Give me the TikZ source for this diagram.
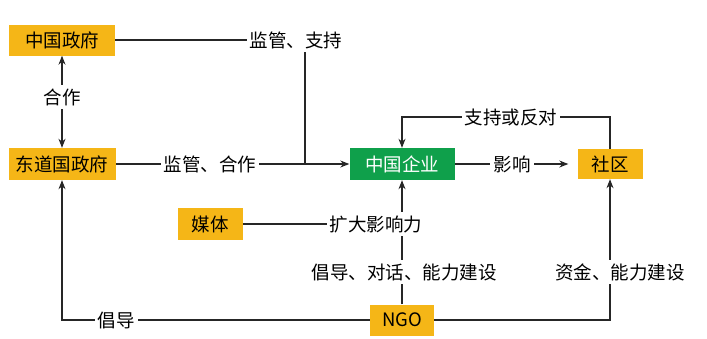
\documentclass[tikz,border=0pt]{standalone}
\usepackage{fontspec}
\setmainfont{Noto Sans CJK SC}
\usetikzlibrary{arrows.meta,backgrounds}
\definecolor{boxY}{HTML}{F5B617}
\definecolor{boxG}{HTML}{0FA04B}

\begin{document}
\begin{tikzpicture}[x=1pt,y=-1pt,
  ybox/.style={fill=boxY,inner sep=0pt,minimum height=31pt,font=\fontsize{18.5}{20}\selectfont},
  gbox/.style={ybox,fill=boxG,text=white},
  lab/.style={fill=white,inner sep=3pt,font=\fontsize{18.5}{20}\selectfont},
  ln/.style={line width=1.1pt,black!85},
  arr/.style={ln,-{Stealth[length=9pt,width=7pt]}}]
  \useasboundingbox (0,0) rectangle (707,338);
  \node[ybox,minimum width=106pt] (gov) at (62,40) {中国政府};
  \node[ybox,minimum width=107pt,minimum height=32pt] (host) at (62,164) {东道国政府};
  \node[gbox,minimum width=105pt,minimum height=32pt] (firm) at (402,164) {中国企业};
  \node[ybox,minimum width=65pt,minimum height=30pt] (comm) at (610,164) {社区};
  \node[ybox,minimum width=65pt,minimum height=32pt] (media) at (210,224) {媒体};
  \node[ybox,minimum width=64pt] (ngo) at (402,320) {NGO};
  \node[lab] (sup) at (296,40) {监管、支持};
  \node[lab] (coop) at (62,97) {合作};
  \node[lab] (reg) at (210,164) {监管、合作};
  \node[lab] (infl) at (512,164) {影响};
  \node[lab] (opp) at (511,117) {支持或反对};
  \node[lab] (mag) at (376,224) {扩大影响力};
  \node[lab] (talk) at (404,272) {倡导、对话、能力建设};
  \node[lab] (fund) at (620,272) {资金、能力建设};
  \node[lab] (adv) at (116,320) {倡导};
  \coordinate (j) at (305,164);
  \begin{scope}[on background layer]
    \draw[ln] (gov) -- (sup);
    \draw[ln] (sup.south -| j) -- (j);
    \draw[ln,{Stealth[length=9pt,width=7pt]}-{Stealth[length=9pt,width=7pt]}] (gov) -- (host);
    \draw[ln] (host) -- (reg);
    \draw[arr] (reg) -- (firm);
    \draw[ln] (firm) -- (infl);
    \draw[arr,shorten >=9pt] (infl) -- (comm);
    \draw[ln] (comm) |- (opp);
    \draw[arr] (opp) -| (firm);
    \draw[ln] (media) -- (mag);
    \draw[arr] (ngo) -- (firm);
    \draw[arr] (ngo) -| (host);
    \draw[arr] (ngo) -| (comm);
  \end{scope}
\end{tikzpicture}
\end{document}
